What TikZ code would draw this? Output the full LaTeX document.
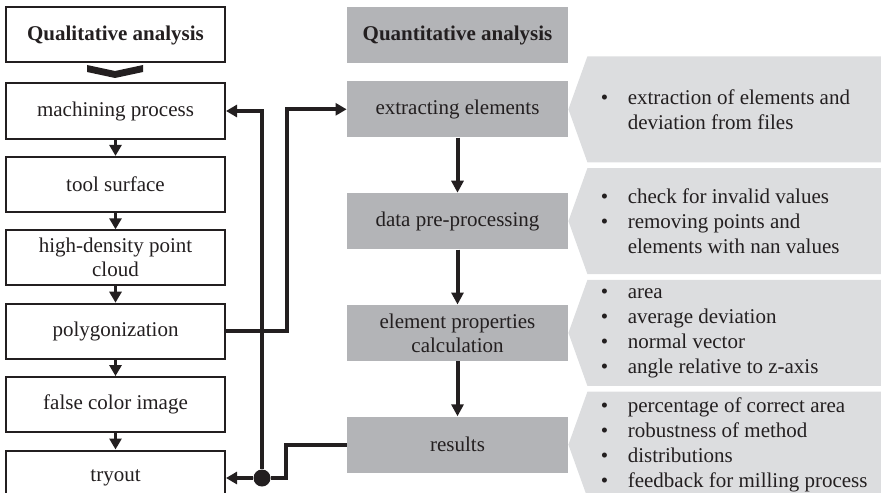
\documentclass[tikz,border=0pt]{standalone}
\usepackage{fontspec}
\setmainfont{Liberation Serif}
\usetikzlibrary{arrows.meta,positioning}
\definecolor{inkgray}{RGB}{35,31,32}
\definecolor{boxgray}{RGB}{179,180,183}
\definecolor{notegray}{RGB}{220,221,223}
\newcommand{\bul}{\makebox[13.5pt][l]{\textbullet}}
\newcommand{\cont}{\hspace*{13.5pt}}

\begin{document}
\begin{tikzpicture}[
    x=0.5pt, y=-0.5pt,
    qual/.style={rectangle, draw=inkgray, line width=1pt, fill=white, minimum width=109.5pt, minimum height=27.5pt, align=center, text=inkgray, font=\fontsize{10.5}{12}\selectfont},
    quant/.style={rectangle, fill=boxgray, minimum width=110.5pt, minimum height=28pt, align=center, text=inkgray, font=\fontsize{10.5}{12}\selectfont},
    note/.style={inner sep=0pt, align=left, text=inkgray, font=\fontsize{10.5}{12.5}\selectfont},
    panel/.style={fill=notegray},
    flow/.style={-{Triangle[length=5.5pt,width=6pt]}, line width=1.6pt, draw=inkgray},
    bigflow/.style={-{Triangle[length=6pt,width=6pt]}, line width=2pt, draw=inkgray},
    wire/.style={line width=1.9pt, draw=inkgray},
    link/.style={wire, -{Triangle[length=5.5pt,width=6pt]}},
    dot/.style={circle, fill=inkgray, inner sep=0pt, minimum size=8.5pt}
]
\useasboundingbox (0,0) rectangle (881,492);

% Qualitative analysis
\node[qual, font=\fontsize{10.5}{12}\selectfont\bfseries] (qlhead) at (115.5,35) {Qualitative analysis};
\node[qual, below=9.5pt of qlhead] (mach) {machining process};
\node[qual, below=8.2pt of mach] (tool) {tool surface};
\node[qual, below=8.2pt of tool] (cloud) {high-density point\\cloud};
\node[qual, below=8.2pt of cloud] (poly) {polygonization};
\node[qual, below=8.2pt of poly] (falsec) {false color image};
\node[qual, below=8.2pt of falsec] (tryout) {tryout};
\fill[inkgray] (87,65) -- (115,71) -- (143,65) -- (143,72) -- (115,78) -- (87,72) -- cycle;
\draw[flow] (mach) -- (tool);
\draw[flow] (tool) -- (cloud);
\draw[flow] (cloud) -- (poly);
\draw[flow] (poly) -- (falsec);
\draw[flow] (falsec) -- (tryout);

% Quantitative analysis
\node[quant, font=\fontsize{10.5}{12}\selectfont\bfseries] (qnhead) at (457.5,35.5) {Quantitative analysis};
\node[quant, below=8.5pt of qnhead] (extract) {extracting elements};
\node[quant, below=27.5pt of extract] (prep) {data pre-processing};
\node[quant, below=27.5pt of prep] (props) {element properties\\calculation};
\node[quant, below=27.5pt of props] (res) {results};
\draw[bigflow] (extract) -- (prep);
\draw[bigflow] (prep) -- (props);
\draw[bigflow] (props) -- (res);

% Panels
\foreach \b in {extract,prep,props,res}
  \fill[panel] (\b.east) -- ++(19,-53) -- ++(300,0) -- ++(0,106) -- ++(-300,0) -- cycle;
\node[note, right=16pt of extract.east] (n1) {\bul extraction of elements and\\\cont deviation from files};
\node[note, right=16pt of prep.east] (n2) {\bul check for invalid values\\\bul removing points and\\\cont elements with nan values};
\node[note, right=16pt of props.east] (n3) {\bul area\\\bul average deviation\\\bul normal vector\\\bul angle relative to z-axis};
\node[note, right=16pt of res.east] (n4) {\bul percentage of correct area\\\bul robustness of method\\\bul distributions\\\bul feedback for milling process};

% Feedback loops
\node[dot] (jn) at ([xshift=18pt]tryout.east) {};
\draw[link] (poly.east) -- ++(61,0) |- (extract.west);
\draw[wire] (res.west) -- ++(-61,0) |- (jn);
\draw[link] (jn) |- (mach.east);
\draw[link] (jn) -- (tryout.east);

\end{tikzpicture}
\end{document}
